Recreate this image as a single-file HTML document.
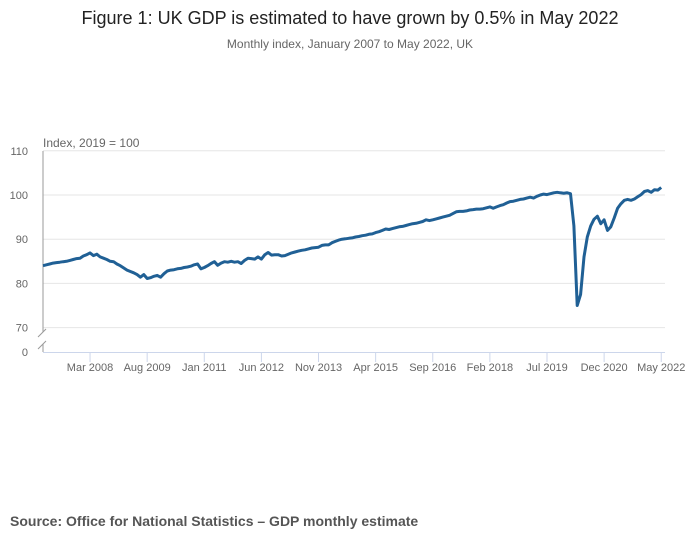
<!DOCTYPE html>
<html><head><meta charset="utf-8"><style>
body{margin:0;background:#fff;width:700px;height:549px;overflow:hidden;font-family:"Liberation Sans",sans-serif}
</style></head><body>
<svg width="700" height="549" xmlns="http://www.w3.org/2000/svg">
<text x="350" y="24" text-anchor="middle" font-size="18" fill="#222">Figure 1: UK GDP is estimated to have grown by 0.5% in May 2022</text>
<text x="350" y="48" text-anchor="middle" font-size="12" fill="#666">Monthly index, January 2007 to May 2022, UK</text>
<text x="43" y="147" font-size="12" fill="#666">Index, 2019 = 100</text>
<g id="grid"></g><g id="xaxis"></g>
<line x1="43" y1="151" x2="43" y2="332" stroke="#999"/>
<line x1="43" y1="344" x2="43" y2="352" stroke="#999"/>
<line x1="38" y1="337" x2="46" y2="329" stroke="#999"/>
<line x1="38" y1="349" x2="46" y2="341" stroke="#999"/>
<path id="line" fill="none" stroke="#206095" stroke-width="3" stroke-linejoin="round"/>
<text x="10" y="526" font-size="14" font-weight="bold" fill="#555">Source: Office for National Statistics – GDP monthly estimate</text>
</svg>
<script>
const values=[84.0,84.2,84.4,84.6,84.7,84.8,84.9,85.0,85.2,85.4,85.6,85.7,
86.2,86.5,86.9,86.3,86.6,86.0,85.7,85.4,85.0,84.9,84.4,84.0,
83.5,83.0,82.7,82.4,82.0,81.4,82.0,81.1,81.3,81.6,81.8,81.4,
82.2,82.8,83.0,83.1,83.3,83.4,83.6,83.7,83.9,84.2,84.4,83.3,
83.6,84.0,84.5,84.9,84.1,84.6,84.9,84.8,85.0,84.8,84.9,84.5,
85.2,85.7,85.6,85.5,86.0,85.5,86.5,87.0,86.4,86.5,86.5,86.2,
86.3,86.6,86.9,87.1,87.3,87.5,87.6,87.8,88.0,88.1,88.2,88.6,
88.7,88.7,89.2,89.5,89.8,90.0,90.1,90.2,90.3,90.5,90.6,90.8,
90.9,91.1,91.2,91.5,91.7,92.0,92.3,92.2,92.4,92.6,92.8,92.9,
93.1,93.3,93.5,93.6,93.8,94.0,94.4,94.2,94.4,94.6,94.8,95.0,
95.2,95.4,95.8,96.2,96.3,96.3,96.4,96.6,96.7,96.8,96.8,96.9,
97.1,97.3,97.0,97.3,97.6,97.8,98.2,98.5,98.6,98.8,99.0,99.1,
99.3,99.5,99.3,99.7,100.0,100.2,100.1,100.3,100.5,100.6,100.5,100.4,
100.5,100.3,93.0,75.0,77.5,86.0,90.5,93.0,94.5,95.2,93.5,94.4,
92.0,92.8,94.8,97.0,98.0,98.8,99.0,98.8,99.1,99.6,100.1,100.8,
101.0,100.6,101.2,101.1,101.7];
const yTicks=[70,80,90,100,110];
const xTickLabels=["Mar 2008","Aug 2009","Jan 2011","Jun 2012","Nov 2013","Apr 2015","Sep 2016","Feb 2018","Jul 2019","Dec 2020","May 2022"];
const xTickIndex=[14,31,48,65,82,99,116,133,150,167,184];
const NS="http://www.w3.org/2000/svg";
const x0=43,pxm=3.36;
function X(i){return x0+i*pxm;}
function Y(v){return 195+(100-v)*4.42;}
const grid=document.getElementById('grid');
yTicks.forEach(t=>{
 const l=document.createElementNS(NS,'line');
 l.setAttribute('x1',43);l.setAttribute('x2',665);l.setAttribute('y1',Y(t));l.setAttribute('y2',Y(t));
 l.setAttribute('stroke','#e6e6e6');
 
 
 grid.appendChild(l);
 const tx=document.createElementNS(NS,'text');
 tx.setAttribute('x',28);tx.setAttribute('y',Y(t)+4);tx.setAttribute('text-anchor','end');
 tx.setAttribute('font-size','11');tx.setAttribute('fill','#666');tx.textContent=t;
 
 
 grid.appendChild(tx);
});
const z=document.createElementNS(NS,'text');
z.setAttribute('x',28);z.setAttribute('y',356);z.setAttribute('text-anchor','end');
z.setAttribute('font-size','11');z.setAttribute('fill','#666');z.textContent='0';


grid.appendChild(z);
const xa=document.getElementById('xaxis');
const base=document.createElementNS(NS,'line');
base.setAttribute('x1',43);base.setAttribute('x2',665);base.setAttribute('y1',352.5);base.setAttribute('y2',352.5);
base.setAttribute('stroke','#ccd6eb');


xa.appendChild(base);
xTickIndex.forEach((idx,k)=>{
 const x=X(idx);
 const t=document.createElementNS(NS,'line');
 t.setAttribute('x1',x);t.setAttribute('x2',x);t.setAttribute('y1',352);t.setAttribute('y2',362);t.setAttribute('stroke','#ccd6eb');
 
 
 xa.appendChild(t);
 const tx=document.createElementNS(NS,'text');
 tx.setAttribute('x',x);tx.setAttribute('y',371);tx.setAttribute('text-anchor','middle');
 tx.setAttribute('font-size','11');tx.setAttribute('fill','#666');tx.textContent=xTickLabels[k];
 
 
 xa.appendChild(tx);
});
document.getElementById('line').setAttribute('d',values.map((v,i)=>(i?'L':'M')+X(i).toFixed(1)+','+Y(v).toFixed(1)).join(''));
</script>
</body></html>
